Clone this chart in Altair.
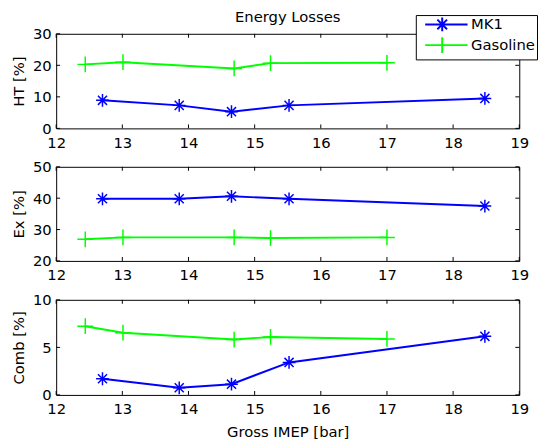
import altair as alt
import pandas as pd

# ---------------- data ----------------
series_names = ["MK1", "Gasoline"]
series_colors = ["#0000ff", "#00ff00"]

mk1_imep = [12.70, 13.86, 14.65, 15.52, 18.48]
gas_imep = [12.44, 13.01, 14.69, 15.24, 17.00]

mk1_ht = [8.9, 7.3, 5.3, 7.3, 9.5]
gas_ht = [20.3, 21.0, 19.0, 20.7, 20.8]

mk1_ex = [39.8, 39.8, 40.6, 39.8, 37.5]
gas_ex = [26.9, 27.5, 27.5, 27.3, 27.5]

mk1_comb = [1.70, 0.75, 1.13, 3.42, 6.16]
gas_comb = [7.23, 6.54, 5.82, 6.10, 5.89]

x_ticks = [12, 13, 14, 15, 16, 17, 18, 19]
ht_ticks = [0, 10, 20, 30]
ex_ticks = [20, 30, 40, 50]
comb_ticks = [0, 5, 10]

panel_titles = ["HT [%]", "Ex [%]", "Comb [%]"]
x_title = "Gross IMEP [bar]"
chart_title = "Energy Losses"

# ---------------- table ----------------
records = []
for name, xs, ht, ex, cb in zip(series_names, [mk1_imep, gas_imep], [mk1_ht, gas_ht],
                                [mk1_ex, gas_ex], [mk1_comb, gas_comb]):
    for i, xv in enumerate(xs):
        records.append({"series": name, "imep": xv, "HT": ht[i], "Ex": ex[i],
                        "Comb": cb[i], "idx": i})
df = pd.DataFrame(records)

# ---------------- style ----------------
FONT = "DejaVu Sans"
FS = 15
W = 470
TICK = 4

ASTERISK = ("M-0.81,0L0.81,0M0,-0.81L0,0.81"
            "M-0.575,-0.575L0.575,0.575M-0.575,0.575L0.575,-0.575")
PLUS = "M-1,0L1,0M0,-1L0,1"
# legend symbols: line segment with marker (units of 6 px)
ASTERISK_LEG = ("M0,0L7.17,0M2.88,-1.17L2.88,1.17"
                "M2.06,-0.82L3.7,0.82M2.06,0.82L3.7,-0.82")
PLUS_LEG = "M0,0L7.17,0M2.88,-1.33L2.88,1.33"


def panel(field, ytitle, yticks, H, bottom=False, legend=False, title=None):
    xs = alt.Scale(domain=[x_ticks[0], x_ticks[-1]], nice=False, zero=False)
    ys = alt.Scale(domain=[yticks[0], yticks[-1]], nice=False, zero=False)
    xaxis = alt.Axis(values=x_ticks, title=x_title if bottom else "",
                     labelFlush=False, labelOverlap=False, ticks=False, domain=False,
                     grid=False, labelPadding=7, titlePadding=8)
    yaxis = alt.Axis(values=yticks, title=ytitle, labelFlush=False,
                     labelOverlap=False, ticks=False, domain=False, grid=False,
                     labelPadding=5, titlePadding=6)
    color = alt.Color("series:N", scale=alt.Scale(domain=series_names, range=series_colors),
                      legend=None)
    base = alt.Chart(df)
    line = base.mark_line(strokeWidth=2).encode(
        x=alt.X("imep:Q", scale=xs, axis=xaxis),
        y=alt.Y(f"{field}:Q", scale=ys, axis=yaxis),
        color=color, detail="series:N", order="idx:Q")
    pts = base.mark_point(filled=False, size=256, strokeWidth=1.5, opacity=1).encode(
        x=alt.X("imep:Q", scale=xs, axis=xaxis),
        y=alt.Y(f"{field}:Q", scale=ys, axis=yaxis),
        color=color,
        shape=alt.Shape("series:N", scale=alt.Scale(domain=series_names, range=[ASTERISK, PLUS]),
                        legend=None))
    xt = alt.Chart(pd.DataFrame({"t": x_ticks}))
    yt = alt.Chart(pd.DataFrame({"t": yticks}))
    tx = alt.X("t:Q", scale=xs, axis=xaxis)
    ty = alt.Y("t:Q", scale=ys, axis=yaxis)
    t_bot = xt.mark_rule(color="black", strokeWidth=1).encode(x=tx, y=alt.value(H), y2=alt.value(H - TICK))
    t_top = xt.mark_rule(color="black", strokeWidth=1).encode(x=tx, y=alt.value(0), y2=alt.value(TICK))
    t_left = yt.mark_rule(color="black", strokeWidth=1).encode(y=ty, x=alt.value(0), x2=alt.value(TICK))
    t_right = yt.mark_rule(color="black", strokeWidth=1).encode(y=ty, x=alt.value(W), x2=alt.value(W - TICK))
    layers = [line, pts, t_bot, t_top, t_left, t_right]
    if legend:
        lg = dict(title=None, orient="none", legendX=365, legendY=-19,
                  strokeColor="black", fillColor="white", padding=2,
                  symbolSize=144, symbolStrokeWidth=2, labelFont=FONT,
                  labelFontSize=FS, labelColor="black", labelOffset=39,
                  rowPadding=-3, cornerRadius=0)
        leg = alt.Chart(df).transform_filter("false").mark_point(
            filled=False, size=144, strokeWidth=2, opacity=1).encode(
            x=alt.X("imep:Q", scale=xs, axis=xaxis),
            y=alt.Y(f"{field}:Q", scale=ys, axis=yaxis),
            color=alt.Color("series:N", scale=alt.Scale(domain=series_names, range=series_colors),
                            legend=alt.Legend(**lg)),
            shape=alt.Shape("series:N", scale=alt.Scale(domain=series_names,
                                                        range=[ASTERISK_LEG, PLUS_LEG]),
                            legend=alt.Legend(**lg)))
        layers.append(leg)
    ch = alt.layer(*layers).properties(width=W, height=H)
    if legend:
        ch = ch.resolve_scale(color="independent", shape="independent")
    if title:
        ch = ch.properties(title=alt.TitleParams(
            text=title, font=FONT, fontSize=FS, fontWeight="normal", color="black",
            anchor="middle", frame="group", offset=-23, baseline="alphabetic"))
    return ch


p1 = panel("HT", panel_titles[0], ht_ticks, 96, legend=True, title=chart_title)
p2 = panel("Ex", panel_titles[1], ex_ticks, 95.5)
p3 = panel("Comb", panel_titles[2], comb_ticks, 96.5, bottom=True)

chart = alt.vconcat(p1, p2, p3, spacing=39, bounds="flush").resolve_scale(
    color="independent", shape="independent"
).properties(
    padding={"left": 11, "top": 7, "right": 0, "bottom": 0},
    background="white",
).configure_view(
    stroke="black", strokeWidth=1
).configure_axis(
    labelFont=FONT, labelFontSize=FS, labelColor="black",
    titleFont=FONT, titleFontSize=FS, titleColor="black", titleFontWeight="normal"
)

chart.save("out.html", embed_options={"renderer": "svg", "actions": False})
